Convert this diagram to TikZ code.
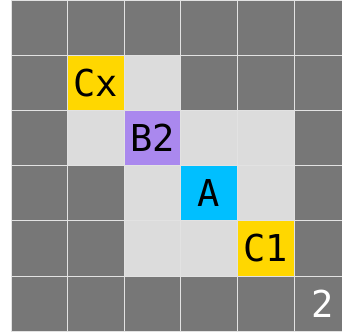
\documentclass[tikz,border=0pt]{standalone}
\usepackage{fontspec}
\setmonofont{DejaVu Sans Mono}
\usetikzlibrary{positioning}
\definecolor{wall}{HTML}{777777}
\definecolor{floor}{HTML}{DCDCDC}
\definecolor{gold}{HTML}{FFD700}
\definecolor{sky}{HTML}{00BFFF}
\definecolor{lilac}{HTML}{AA88EE}
\definecolor{gridline}{HTML}{E2E2E2}
\tikzset{
  tile/.style={
    rectangle, draw=gridline, line width=1pt,
    minimum width=56.6pt, minimum height=55.2pt,
    inner sep=0pt, font=\fontsize{37}{37}\selectfont\ttfamily,
  },
  wall tile/.style={tile, fill=wall},
  floor tile/.style={tile, fill=floor},
  goal tile/.style={tile, fill=gold},
  agent tile/.style={tile, fill=sky},
  box tile/.style={tile, fill=lilac},
  level/.style={
    inner sep=0pt, text=white, font=\fontsize{37}{37}\selectfont\ttfamily,
  }
}
\begin{document}
\begin{tikzpicture}[x=56.6pt, y=-55.2pt]

  \useasboundingbox (-11pt,0pt) rectangle (331pt,-333pt);
  \clip (-11pt,0pt) rectangle (331pt,-333pt);

  % walls everywhere first
  \foreach \r in {0,...,5}
    \foreach \c in {0,...,5}
      \node[wall tile] (w\c\r) at (\c+0.5,\r+0.5) {};

  % open floor
  \foreach \c/\r in {2/1, 1/2, 3/2, 4/2, 2/3, 4/3, 2/4, 3/4}
    \node[floor tile] (f\c\r) at (\c+0.5,\r+0.5) {};

  \node[goal tile]  (cx) at (1.5,1.5) {Cx};
  \node[box tile]   (b2) at (2.5,2.5) {B2};
  \node[agent tile] (a)  at (3.5,3.5) {A};
  \node[goal tile]  (c1) at (4.5,4.5) {C1};

  \node[level] (lvl) at (5.5,5.5) {2};

\end{tikzpicture}
\end{document}
